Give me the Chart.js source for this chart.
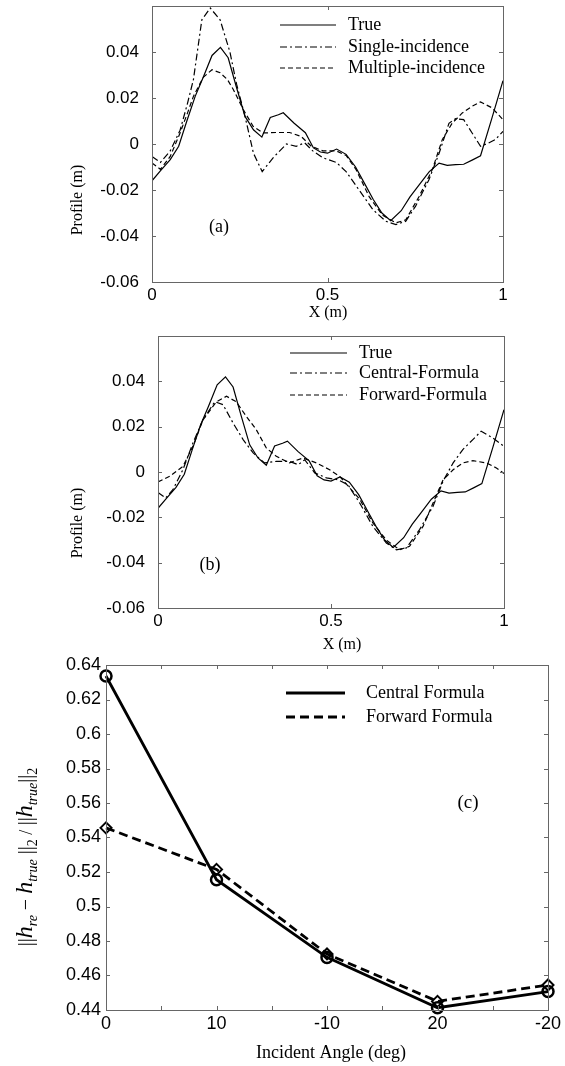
<!DOCTYPE html>
<html>
<head>
<meta charset="utf-8">
<script src="https://cdn.jsdelivr.net/npm/chart.js"></script>
<style>
  body { margin: 0; background: #fff; width: 565px; height: 1066px; position: relative; overflow: hidden; }
  .panel { position: absolute; left: 0; }
</style>
</head>
<body>
<div class="panel" style="top:0"><canvas id="cA" width="565" height="325"></canvas></div>
<div class="panel" style="top:325px"><canvas id="cB" width="565" height="335"></canvas></div>
<div class="panel" style="top:650px"><canvas id="cC" width="565" height="416"></canvas></div>
<script>
// ---- data: panels (a) and (b), profile vs X (m)
const trueX = [0, 0.025, 0.052, 0.076, 0.099, 0.123, 0.146, 0.171, 0.195, 0.217, 0.24, 0.265, 0.289, 0.313, 0.337, 0.36, 0.374, 0.405, 0.437, 0.46, 0.48, 0.5, 0.526, 0.553, 0.58, 0.605, 0.63, 0.655, 0.68, 0.71, 0.735, 0.76, 0.79, 0.818, 0.841, 0.865, 0.888, 0.912, 0.936, 0.968, 1.0];
const trueY = [-0.016, -0.0115, -0.0068, -0.001, 0.0099, 0.0207, 0.029, 0.0385, 0.042, 0.0375, 0.025, 0.012, 0.0062, 0.003, 0.0115, 0.0127, 0.0136, 0.009, 0.0049, -0.0017, -0.0035, -0.004, -0.0022, -0.0045, -0.01, -0.017, -0.024, -0.030, -0.0333, -0.029, -0.023, -0.018, -0.012, -0.0083, -0.0093, -0.009, -0.0088, -0.007, -0.0051, 0.011, 0.0275];

const singleX = [0, 0.024, 0.052, 0.08, 0.1, 0.118, 0.142, 0.166, 0.194, 0.222, 0.241, 0.265, 0.289, 0.314, 0.345, 0.383, 0.411, 0.435, 0.458, 0.487, 0.525, 0.553, 0.59, 0.629, 0.666, 0.695, 0.723, 0.751, 0.789, 0.818, 0.846, 0.865, 0.888, 0.912, 0.936, 0.959, 0.978, 1.0];
const singleY = [-0.0054, -0.008, -0.003, 0.006, 0.017, 0.028, 0.054, 0.0591, 0.054, 0.040, 0.026, 0.012, -0.004, -0.012, -0.006, 0.0, -0.001, 0.0005, -0.003, -0.006, -0.008, -0.012, -0.020, -0.0285, -0.0336, -0.035, -0.0336, -0.027, -0.0155, -0.004, 0.009, 0.011, 0.0106, 0.0048, -0.001, 0.0004, 0.0019, 0.0055];

const multiX = [0, 0.024, 0.052, 0.08, 0.1, 0.118, 0.146, 0.171, 0.194, 0.215, 0.232, 0.26, 0.288, 0.317, 0.354, 0.392, 0.425, 0.454, 0.487, 0.525, 0.553, 0.581, 0.619, 0.657, 0.695, 0.723, 0.761, 0.799, 0.827, 0.855, 0.884, 0.912, 0.936, 0.969, 1.0];
const multiY = [-0.0083, -0.011, -0.0054, 0.0048, 0.013, 0.0207, 0.029, 0.0323, 0.031, 0.028, 0.0236, 0.015, 0.0077, 0.0048, 0.005, 0.005, 0.0033, -0.001, -0.003, -0.003, -0.005, -0.011, -0.023, -0.031, -0.0343, -0.033, -0.0228, -0.011, 0.0019, 0.009, 0.0135, 0.0164, 0.0183, 0.0157, 0.0106];

const centralX = [0, 0.022, 0.043, 0.072, 0.101, 0.13, 0.164, 0.188, 0.217, 0.246, 0.275, 0.308, 0.342, 0.38, 0.405, 0.424, 0.453, 0.487, 0.52, 0.549, 0.583, 0.621, 0.66, 0.689, 0.718, 0.756, 0.795, 0.824, 0.853, 0.881, 0.91, 0.934, 0.968, 1.0];
const centralY = [-0.009, -0.0115, -0.0078, 0.001, 0.0128, 0.023, 0.031, 0.0297, 0.0216, 0.0143, 0.0084, 0.004, 0.0047, 0.0047, 0.0032, 0.0054, -0.0004, -0.0026, -0.0034, -0.0056, -0.0137, -0.024, -0.0313, -0.0343, -0.0335, -0.0254, -0.0151, -0.004, 0.004, 0.0099, 0.0143, 0.018, 0.015, 0.0113];

const forwardX = [0, 0.034, 0.072, 0.101, 0.13, 0.169, 0.198, 0.226, 0.255, 0.284, 0.313, 0.342, 0.38, 0.419, 0.458, 0.496, 0.525, 0.554, 0.583, 0.621, 0.66, 0.698, 0.727, 0.766, 0.795, 0.824, 0.853, 0.881, 0.91, 0.949, 0.978, 1.0];
const forwardY = [-0.0044, -0.0019, 0.0025, 0.0113, 0.023, 0.031, 0.0334, 0.031, 0.0246, 0.0187, 0.0106, 0.0069, 0.004, 0.0062, 0.004, 0.001, -0.0019, -0.007, -0.012, -0.0225, -0.030, -0.0343, -0.0328, -0.024, -0.0137, -0.0034, 0.001, 0.004, 0.005, 0.004, 0.0018, -0.0007];

const xTicksAB = [0, 0.5, 1];
const yTicksAB = [-0.06, -0.04, -0.02, 0, 0.02, 0.04];
const yLabelsAB = ['-0.06', '-0.04', '-0.02', '0', '0.02', '0.04'];

// ---- data: panel (c), relative error vs incident angle
const angles = ['0', '10', '-10', '20', '-20'];
const centralErr = [0.6336, 0.5155, 0.4705, 0.4413, 0.4507];
const forwardErr = [0.5456, 0.5215, 0.4725, 0.4450, 0.4545];
const yTicksC = [0.44, 0.46, 0.48, 0.5, 0.52, 0.54, 0.56, 0.58, 0.6, 0.62, 0.64];
const yLabelsC = ['0.44', '0.46', '0.48', '0.5', '0.52', '0.54', '0.56', '0.58', '0.6', '0.62', '0.64'];
const xTicksC = [0, 0.5, 1, 1.5, 2, 2.5, 3, 3.5, 4];

const SANS = '"Liberation Sans", Arial, sans-serif';
const SERIF = '"Liberation Serif", "Times New Roman", serif';

function pts(xs, ys) { return xs.map((x, i) => ({ x: x, y: ys[i] })); }

// frame, inward ticks, legend and free texts
const decor = {
  id: 'decor',
  afterDraw(chart, args, o) {
    const { ctx, chartArea: a } = chart;
    const xs = chart.scales.x, ys = chart.scales.y;
    ctx.save();
    ctx.strokeStyle = '#666';
    ctx.lineWidth = 1;
    ctx.setLineDash([]);
    ctx.strokeRect(Math.round(a.left) + 0.5, Math.round(a.top) + 0.5, Math.round(a.right - a.left), Math.round(a.bottom - a.top));
    ctx.beginPath();
    o.yTicks.forEach(v => {
      const p = Math.round(ys.getPixelForValue(v)) + 0.5;
      ctx.moveTo(a.left, p); ctx.lineTo(a.left + 4, p);
      ctx.moveTo(a.right, p); ctx.lineTo(a.right - 4, p);
    });
    o.xTicks.forEach(v => {
      const p = Math.round(xs.getPixelForValue(v)) + 0.5;
      ctx.moveTo(p, a.bottom); ctx.lineTo(p, a.bottom - 4);
      ctx.moveTo(p, a.top); ctx.lineTo(p, a.top + 4);
    });
    ctx.stroke();

    // legend
    const lg = o.legend;
    ctx.fillStyle = '#000';
    ctx.font = lg.font;
    ctx.textAlign = 'left';
    ctx.textBaseline = 'middle';
    chart.data.datasets.forEach((ds, i) => {
      const y = lg.ys[i];
      ctx.strokeStyle = '#000';
      ctx.lineWidth = ds.borderWidth;
      ctx.setLineDash(ds.borderDash || []);
      ctx.beginPath();
      ctx.moveTo(lg.x1, y); ctx.lineTo(lg.x2, y);
      ctx.stroke();
      ctx.fillText(ds.label, lg.tx, y);
    });
    ctx.setLineDash([]);

    // texts
    o.texts.forEach(t => {
      ctx.save();
      ctx.font = t.font;
      ctx.textAlign = 'center';
      ctx.textBaseline = 'middle';
      ctx.translate(t.x, t.y);
      if (t.rot) ctx.rotate(t.rot);
      ctx.fillText(t.text, 0, 0);
      ctx.restore();
    });

    // rich (sub/italic) label
    if (o.rich) {
      const r = o.rich;
      let total = 0;
      r.parts.forEach(p => { ctx.font = p.font; total += ctx.measureText(p.text).width; });
      ctx.save();
      ctx.translate(r.x, r.y);
      ctx.rotate(-Math.PI / 2);
      ctx.textAlign = 'left';
      ctx.textBaseline = 'alphabetic';
      let cx = -total / 2;
      r.parts.forEach(p => {
        ctx.font = p.font;
        ctx.fillText(p.text, cx, 7 + (p.dy || 0));
        cx += ctx.measureText(p.text).width;
      });
      ctx.restore();
    }
    ctx.restore();
  }
};

function profileChart(id, datasets, area, canvasH, extra) {
  return new Chart(document.getElementById(id), {
    type: 'scatter',
    data: { datasets: datasets },
    plugins: [decor],
    options: {
      responsive: false,
      animation: false,
      devicePixelRatio: 1,
      layout: { padding: { left: 0, right: 565 - area.right, top: area.top, bottom: 0 } },
      elements: { point: { radius: 0, hoverRadius: 0 }, line: { tension: 0 } },
      plugins: { legend: { display: false }, tooltip: { enabled: false }, decor: extra },
      scales: {
        x: {
          type: 'linear', min: 0, max: 1,
          afterBuildTicks: s => { s.ticks = xTicksAB.map(v => ({ value: v })); },
          afterFit: s => { s.height = canvasH - area.bottom; s.paddingLeft = 0; s.paddingRight = 0; },
          ticks: { color: '#000', font: { family: SANS, size: 17 }, padding: 3, maxRotation: 0, autoSkip: false, callback: v => String(v) },
          grid: { display: false, drawTicks: false },
          border: { display: false }
        },
        y: {
          type: 'linear', min: -0.06, max: 0.06,
          afterBuildTicks: s => { s.ticks = yTicksAB.map(v => ({ value: v })); },
          afterFit: s => { s.width = area.left; s.paddingTop = 0; s.paddingBottom = 0; },
          ticks: { color: '#000', font: { family: SANS, size: 17 }, padding: 13, autoSkip: false, callback: v => yLabelsAB[yTicksAB.indexOf(v)] },
          grid: { display: false, drawTicks: false },
          border: { display: false }
        }
      }
    }
  });
}

function line(label, xs, ys, dash) {
  return { label: label, data: pts(xs, ys), showLine: true, borderColor: '#000', borderWidth: 1.2, borderDash: dash, pointRadius: 0, fill: false };
}

const DASHDOT = [7, 3, 2, 3];
const DASH = [5, 3];

profileChart('cA', [
  line('True', trueX, trueY, []),
  line('Single-incidence', singleX, singleY, DASHDOT),
  line('Multiple-incidence', multiX, multiY, DASH)
], { left: 152, right: 503, top: 6, bottom: 282 }, 325, {
  yTicks: yTicksAB, xTicks: xTicksAB,
  legend: { x1: 280, x2: 336, tx: 348, ys: [25, 47, 68], font: '18px ' + SERIF },
  texts: [
    { text: 'Profile (m)', x: 78, y: 200, rot: -Math.PI / 2, font: '16px ' + SERIF },
    { text: 'X (m)', x: 328, y: 313, font: '16px ' + SERIF },
    { text: '(a)', x: 219, y: 227, font: '18px ' + SERIF }
  ]
});

profileChart('cB', [
  line('True', trueX, trueY, []),
  line('Central-Formula', centralX, centralY, DASHDOT),
  line('Forward-Formula', forwardX, forwardY, DASH)
], { left: 158, right: 504, top: 11, bottom: 283 }, 335, {
  yTicks: yTicksAB, xTicks: xTicksAB,
  legend: { x1: 290, x2: 347, tx: 359, ys: [28, 48, 70], font: '18px ' + SERIF },
  texts: [
    { text: 'Profile (m)', x: 78, y: 198, rot: -Math.PI / 2, font: '16px ' + SERIF },
    { text: 'X (m)', x: 342, y: 320, font: '16px ' + SERIF },
    { text: '(b)', x: 210, y: 240, font: '18px ' + SERIF }
  ]
});

// panel (c)
const areaC = { left: 106, right: 548, top: 15, bottom: 360 };
new Chart(document.getElementById('cC'), {
  type: 'line',
  data: {
    labels: angles,
    datasets: [
      { label: 'Central Formula', data: centralErr, borderColor: '#000', borderWidth: 2.8, borderDash: [],
        pointStyle: 'circle', pointRadius: 5.5, pointBorderWidth: 2.5, pointBorderColor: '#000', pointBackgroundColor: 'rgba(0,0,0,0)' },
      { label: 'Forward Formula', data: forwardErr, borderColor: '#000', borderWidth: 2.8, borderDash: [9, 5],
        pointStyle: 'rectRot', pointRadius: 5.5, pointBorderWidth: 2, pointBorderColor: '#000', pointBackgroundColor: 'rgba(0,0,0,0)' }
    ]
  },
  plugins: [decor],
  options: {
    responsive: false,
    animation: false,
    devicePixelRatio: 1,
    clip: false,
    layout: { padding: { left: 0, right: 565 - areaC.right, top: areaC.top, bottom: 0 } },
    elements: { line: { tension: 0 } },
    plugins: {
      legend: { display: false }, tooltip: { enabled: false },
      decor: {
        yTicks: yTicksC, xTicks: xTicksC,
        legend: { x1: 286, x2: 345, tx: 366, ys: [43, 67], font: '18px ' + SERIF },
        texts: [
          { text: 'Incident Angle (deg)', x: 331, y: 403, font: '18px ' + SERIF },
          { text: '(c)', x: 468, y: 153, font: '19px ' + SERIF }
        ],
        rich: {
          x: 25, y: 207,
          parts: [
            { text: '||', font: '20px ' + SERIF },
            { text: 'h', font: 'italic 24px ' + SERIF },
            { text: 're', font: 'italic 14px ' + SERIF, dy: 5 },
            { text: ' \u2212 ', font: '20px ' + SERIF },
            { text: 'h', font: 'italic 24px ' + SERIF },
            { text: 'true', font: 'italic 14px ' + SERIF, dy: 5 },
            { text: ' ||', font: '20px ' + SERIF },
            { text: '2', font: '14px ' + SERIF, dy: 5 },
            { text: ' / ', font: '18px ' + SERIF },
            { text: '||', font: '20px ' + SERIF },
            { text: 'h', font: 'italic 24px ' + SERIF },
            { text: 'true', font: 'italic 14px ' + SERIF, dy: 5 },
            { text: '||', font: '20px ' + SERIF },
            { text: '2', font: '14px ' + SERIF, dy: 5 }
          ]
        }
      }
    },
    scales: {
      x: {
        type: 'category', offset: false,
        afterFit: s => { s.height = 416 - areaC.bottom; s.paddingLeft = 0; s.paddingRight = 0; },
        ticks: { color: '#000', font: { family: SANS, size: 18 }, padding: 3, maxRotation: 0, autoSkip: false },
        grid: { display: false, drawTicks: false },
        border: { display: false }
      },
      y: {
        type: 'linear', min: 0.44, max: 0.64,
        afterBuildTicks: s => { s.ticks = yTicksC.map(v => ({ value: v })); },
        afterFit: s => { s.width = areaC.left; s.paddingTop = 0; s.paddingBottom = 0; },
        ticks: { color: '#000', font: { family: SANS, size: 18 }, padding: 5, autoSkip: false, callback: v => yLabelsC[yTicksC.indexOf(v)] },
        grid: { display: false, drawTicks: false },
        border: { display: false }
      }
    }
  }
});
</script>
</body>
</html>
